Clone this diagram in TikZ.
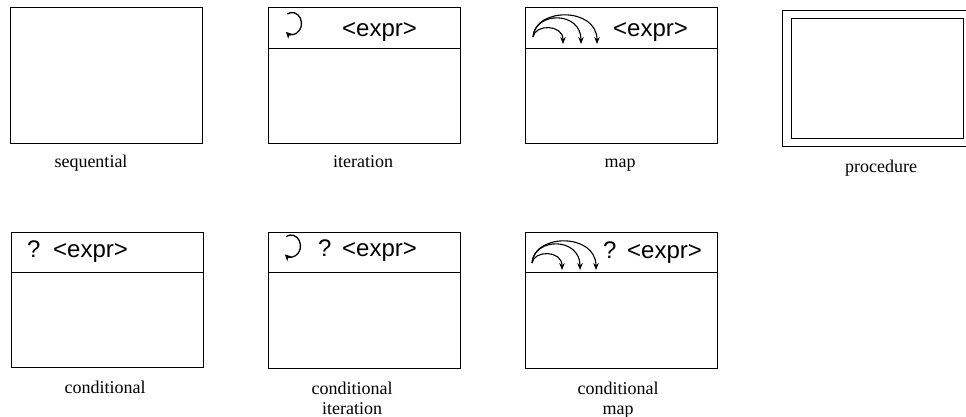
\documentclass[tikz,border=0pt]{standalone}
\usepackage{fontspec}
\setmainfont{Liberation Serif}
\newfontfamily\exprfont{Liberation Sans}
\usetikzlibrary{positioning,calc,arrows.meta}

\begin{document}
\begin{tikzpicture}[x=1pt, y=1pt,
    block/.style={rectangle, draw, line width=1pt, minimum width=192pt, minimum height=136pt, inner sep=0pt, outer sep=0pt},
    head/.style={rectangle, draw, line width=1pt, minimum width=192pt, minimum height=41pt, inner sep=0pt, outer sep=0pt, anchor=north},
    expr/.style={font=\exprfont\fontsize{24}{24}\selectfont, anchor=base west, inner sep=0pt},
    caption/.style={font=\fontsize{18}{20}\selectfont, anchor=base, align=center, inner sep=0pt},
    loopar/.style={line width=1.3pt, -{Stealth[length=6.5pt, width=6.5pt]}},
    maparc/.style={line width=1.1pt, -{Stealth[length=7pt, width=5.5pt]}}
]
    \useasboundingbox (0,0) rectangle (966,-416);

    % Top row
    \node[block] (seq) at (106.5,-75) {};
    \node[block] (iter) at (364,-75) {};
    \node[head] (iterhead) at (iter.north) {};
    \node[block] (map) at (621.5,-75) {};
    \node[head] (maphead) at (map.north) {};
    \node[block, minimum width=190pt] (proc) at (877,-78) {};
    \node[block, minimum width=172pt, minimum height=120pt] (procin) at (proc.center) {};

    % Bottom row
    \node[block, minimum height=135pt] (cond) at (107.5,-299.5) {};
    \node[head, minimum height=40pt] (condhead) at (cond.north) {};
    \node[block] (citer) at (364,-300) {};
    \node[head, minimum height=40pt] (citerhead) at (citer.north) {};
    \node[block] (cmap) at (621.5,-300.5) {};
    \node[head, minimum height=40pt] (cmaphead) at (cmap.north) {};

    % Header contents
    \coordinate (iterloop) at (292,-23.5);
    \draw[loopar] (iterloop) ++(120:9.5pt and 11pt) arc[start angle=120, end angle=-130, x radius=9.5pt, y radius=11pt];
    \node[expr] (iterexpr) at (342,-36) {<expr>};

    \coordinate (mapfrom) at (533,-37);
    \foreach \e/\h in {30/13, 48/26, 64/30}
        \draw[maparc] (mapfrom) .. controls ($(mapfrom)+(2,\h)$) and ($(mapfrom)+(\e,\h)$) .. ($(mapfrom)+(\e,-7)$);
    \node[expr] (mapexpr) at (613,-36) {<expr>};

    \node[expr] (condq) at (27,-257) {?};
    \node[expr] (condexpr) at (53,-257) {<expr>};

    \coordinate (citerloop) at (291,-246);
    \draw[loopar] (citerloop) ++(120:9.5pt and 11pt) arc[start angle=120, end angle=-130, x radius=9.5pt, y radius=11pt];
    \node[expr] (citerq) at (318,-256) {?};
    \node[expr] (citerexpr) at (342,-256) {<expr>};

    \coordinate (cmapfrom) at (532,-263);
    \foreach \e/\h in {30/13, 48/26, 64/30}
        \draw[maparc] (cmapfrom) .. controls ($(cmapfrom)+(2,\h)$) and ($(cmapfrom)+(\e,\h)$) .. ($(cmapfrom)+(\e,-7)$);
    \node[expr] (cmapq) at (603,-258) {?};
    \node[expr] (cmapexpr) at (627,-258) {<expr>};

    % Captions
    \node[caption] (seqlab) at (91,-167) {sequential};
    \node[caption] (iterlab) at (363,-167) {iteration};
    \node[caption] (maplab) at (620,-167) {map};
    \node[caption] (proclab) at (881,-172) {procedure};
    \node[caption] (condlab) at (105,-393) {conditional};
    \node[caption] (citerlab) at (352,-414) {conditional\\iteration};
    \node[caption] (cmaplab) at (618,-414) {conditional\\map};
\end{tikzpicture}
\end{document}
